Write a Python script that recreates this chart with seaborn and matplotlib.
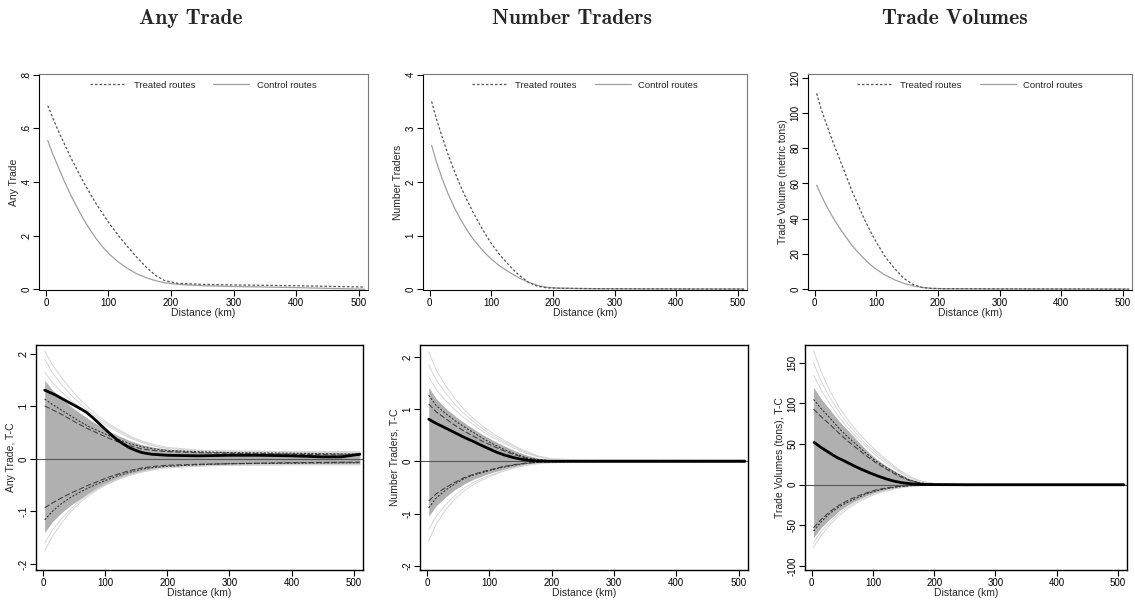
import numpy as np
import pandas as pd
import matplotlib
matplotlib.use("Agg")
import matplotlib.pyplot as plt
import seaborn as sns
from matplotlib.lines import Line2D

# ---------------- data ----------------
titles = ["Any Trade", "Number Traders", "Trade Volumes"]
top_ylabels = ["Any Trade", "Number Traders", "Trade Volume (metric tons)"]
bot_ylabels = ["Any Trade, T-C", "Number Traders, T-C", "Trade Volumes (tons), T-C"]
xlabel = "Distance (km)"
legend_labels = ["Treated routes", "Control routes"]
x_ticks = [0, 100, 200, 300, 400, 500]

top_yticks = [[0, 0.2, 0.4, 0.6, 0.8], [0, 1, 2, 3, 4], [0, 20, 40, 60, 80, 100, 120]]
top_yticklabels = [["0", ".2", ".4", ".6", ".8"], ["0", "1", "2", "3", "4"],
                   ["0", "20", "40", "60", "80", "100", "120"]]
bot_yticks = [[-0.2, -0.1, 0, 0.1, 0.2], [-2, -1, 0, 1, 2], [-100, -50, 0, 50, 100, 150]]
bot_yticklabels = [["-.2", "-.1", "0", ".1", ".2"], ["-2", "-1", "0", "1", "2"],
                   ["-100", "-50", "0", "50", "100", "150"]]

# distance grid for the top-row curves
xt = [3, 10, 20, 30, 40, 50, 60, 70, 80, 90, 100, 115, 130, 145, 160, 175, 190, 210, 250, 300, 400, 510]

at_treated = [.685, .645, .590, .540, .490, .445, .400, .360, .320, .285, .250, .203, .160, .120, .083, .052, .032, .022, .018, .016, .013, .008]
at_control = [.555, .510, .455, .400, .350, .305, .262, .224, .190, .160, .134, .103, .078, .058, .043, .032, .024, .018, .013, .010, .006, .000]
nt_treated = [3.50, 3.20, 2.84, 2.50, 2.20, 1.92, 1.67, 1.44, 1.23, 1.03, .85, .62, .43, .26, .13, .055, .025, .018, .012, .008, .005, .003]
nt_control = [2.68, 2.40, 2.06, 1.77, 1.52, 1.30, 1.11, .94, .80, .67, .56, .42, .31, .21, .13, .07, .035, .02, .012, .008, .005, .003]
tv_treated = [111, 102.5, 92.5, 83, 74, 65, 56, 48, 40, 33, 26.5, 18, 11.5, 6.0, 2.5, 0.9, 0.4, 0.25, 0.2, 0.15, 0.1, 0.0]
tv_control = [59, 53.5, 46.5, 40.3, 34.8, 29.8, 25, 21, 17.3, 14, 11.2, 7.8, 5.2, 3.2, 1.8, 0.9, 0.4, 0.25, 0.2, 0.1, 0.05, 0.0]

# distance grid for the bottom-row envelopes
xg = [3, 15, 30, 45, 60, 75, 90, 105, 120, 140, 160, 180, 200, 250, 300, 400, 510]

# actual treated - control difference (thick black)
at_diff_x = [3, 20, 40, 60, 70, 80, 90, 100, 110, 120, 130, 140, 150, 160, 175, 200, 250, 300, 350, 400, 450, 480, 510]
at_diff = [.131, .122, .109, .096, .089, .079, .068, .057, .046, .036, .028, .021, .016, .012, .009, .007, .006, .007, .007, .006, .004, .004, .009]
nt_diff_x = [3, 10, 18, 35, 50, 60, 75, 87, 100, 113, 125, 140, 155, 172, 200, 300, 400, 510]
nt_diff = [.81, .76, .71, .61, .52, .46, .38, .31, .24, .17, .12, .07, .035, .01, .003, .003, .003, .003]
tv_diff_x = [4, 15, 28, 40, 54, 67, 81, 95, 108, 121, 134, 147, 161, 175, 190, 250, 300, 400, 510]
tv_diff = [52, 46, 39.7, 34, 29, 24, 19, 14.5, 10.7, 7.3, 4.5, 2.5, 1.2, 0.5, 0.2, 0.0, 0.0, 0.0, 0.0]

# permutation percentiles (short dash / long dash)
at_up_short = [.114, .104, .093, .082, .071, .061, .053, .045, .038, .029, .023, .019, .016, .014, .012, .011, .009]
at_up_long = [.101, .094, .085, .075, .065, .056, .048, .040, .033, .025, .019, .016, .014, .012, .011, .009, .007]
at_lo_short = [-.116, -.100, -.085, -.073, -.063, -.054, -.046, -.039, -.032, -.025, -.019, -.016, -.014, -.011, -.009, -.008, -.007]
at_lo_long = [-.093, -.084, -.074, -.065, -.057, -.049, -.042, -.035, -.029, -.022, -.017, -.014, -.012, -.010, -.009, -.007, -.006]

nt_up_short = [1.27, 1.07, .92, .78, .66, .55, .44, .34, .25, .15, .07, .03, .015, .01, .01, .01, .01]
nt_up_long = [1.10, .95, .82, .69, .58, .48, .38, .30, .22, .13, .06, .025, .012, .008, .008, .008, .008]
nt_lo_short = [-.89, -.70, -.55, -.43, -.33, -.26, -.21, -.16, -.115, -.07, -.035, -.017, -.008, -.005, -.005, -.005, -.005]
nt_lo_long = [-.76, -.62, -.50, -.40, -.31, -.245, -.195, -.15, -.105, -.063, -.03, -.014, -.007, -.005, -.005, -.005, -.005]

tv_up_short = [105, 94, 82, 69, 58, 48, 38, 29, 22, 13, 5.5, 2.0, 0.5, 0.2, 0.2, 0.2, 0.2]
tv_up_long = [93, 84, 74, 63, 53, 44, 35, 27, 20, 11.5, 5.0, 1.5, 0.4, 0.2, 0.2, 0.2, 0.2]
tv_lo_short = [-57, -46, -35, -27, -21, -16, -11, -7.5, -5.0, -2.8, -1.2, -0.5, -0.2, -0.1, -0.1, -0.1, -0.1]
tv_lo_long = [-53, -43, -33, -25, -19, -14, -10, -6.5, -4.2, -2.3, -1.0, -0.4, -0.2, -0.1, -0.1, -0.1, -0.1]

# spread of placebo lines (dense core and outer lines)
at_core_up = [.150, .132, .115, .100, .087, .075, .064, .054, .045, .035, .027, .022, .019, .015, .014, .013, .013]
at_core_lo = [-.140, -.120, -.102, -.088, -.076, -.065, -.055, -.047, -.039, -.030, -.024, -.019, -.016, -.013, -.011, -.010, -.010]
at_outer_up1 = [.205, .180, .155, .133, .113, .096, .081, .068, .057, .044, .034, .027, .022, .017, .015, .014, .014]
at_outer_up2 = [.190, .165, .142, .122, .105, .090, .077, .065, .055, .042, .032, .025, .020, .016, .015, .014, .013]
at_outer_up3 = [.165, .146, .128, .112, .098, .085, .073, .062, .052, .040, .031, .024, .020, .016, .015, .014, .013]
at_outer_lo1 = [-.175, -.148, -.122, -.100, -.083, -.069, -.057, -.047, -.039, -.031, -.025, -.020, -.017, -.014, -.012, -.011, -.011]
at_outer_lo2 = [-.160, -.136, -.114, -.095, -.079, -.066, -.055, -.046, -.038, -.030, -.024, -.019, -.016, -.013, -.012, -.011, -.011]

nt_core_up = [1.42, 1.20, 1.02, .87, .74, .62, .51, .41, .32, .21, .12, .06, .03, .02, .02, .02, .02]
nt_core_lo = [-1.05, -.85, -.68, -.54, -.43, -.34, -.27, -.21, -.16, -.10, -.055, -.03, -.02, -.015, -.015, -.015, -.015]
nt_outer_up1 = [2.10, 1.75, 1.45, 1.20, .99, .82, .67, .54, .43, .30, .19, .10, .05, .03, .03, .03, .03]
nt_outer_up2 = [1.85, 1.56, 1.31, 1.09, .91, .76, .62, .50, .40, .28, .17, .09, .045, .03, .03, .03, .03]
nt_outer_up3 = [1.62, 1.38, 1.17, .99, .83, .70, .57, .46, .37, .25, .15, .08, .04, .025, .025, .025, .025]
nt_outer_lo1 = [-1.52, -1.20, -.93, -.72, -.56, -.44, -.35, -.27, -.20, -.13, -.075, -.04, -.025, -.02, -.02, -.02, -.02]
nt_outer_lo2 = [-1.30, -1.05, -.83, -.65, -.51, -.40, -.32, -.25, -.19, -.12, -.07, -.038, -.022, -.018, -.018, -.018, -.018]

tv_core_up = [120, 106, 92, 78, 66, 54, 42, 32, 24, 15, 7.5, 3.0, 1.0, 0.5, 0.4, 0.4, 0.4]
tv_core_lo = [-65, -53, -42, -32, -24.5, -18.5, -13.5, -9.5, -6.5, -3.8, -1.8, -0.8, -0.4, -0.3, -0.3, -0.3, -0.3]
tv_outer_up1 = [165, 140, 115, 95, 79, 65, 53, 42, 32, 20, 10, 4.0, 1.5, 0.6, 0.5, 0.5, 0.5]
tv_outer_up2 = [150, 128, 107, 89, 74, 61, 49, 39, 30, 18.5, 9.5, 3.8, 1.4, 0.6, 0.5, 0.5, 0.5]
tv_outer_up3 = [135, 117, 99, 83, 69, 57, 46, 36, 27.5, 17, 8.5, 3.5, 1.2, 0.5, 0.4, 0.4, 0.4]
tv_outer_lo1 = [-77, -63, -49, -38, -29, -22, -16, -11.5, -8.0, -4.5, -2.2, -1.0, -0.5, -0.3, -0.3, -0.3, -0.3]
tv_outer_lo2 = [-71, -58, -46, -35, -27, -20.5, -15, -10.5, -7.2, -4.2, -2.0, -0.9, -0.5, -0.3, -0.3, -0.3, -0.3]

# ---------------- styling ----------------
sns.set_theme(style="white")
plt.rcParams['font.family'] = ['Liberation Sans', 'DejaVu Sans']
plt.rcParams['axes.edgecolor'] = 'black'

TICK_FS = 7.0
LAB_FS = 7.5
W, H = 1135, 601

fig = plt.figure(figsize=(W / 100, H / 100), dpi=100)
fig.patch.set_facecolor("white")

def pos(l, r, t, b):
    return [l / W, 1 - b / H, (r - l) / W, (b - t) / H]

top_pos = [pos(39, 368, 74, 290), pos(423, 747, 74, 290), pos(808, 1132, 74, 290)]
bot_pos = [pos(36, 363, 345, 570), pos(420, 748, 345, 570), pos(805, 1127, 345, 570)]
top_ylims = [(-0.003, 0.803), (-0.015, 4.01), (-0.5, 122)]
bot_ylims = [(-0.2114, 0.217), (-2.08, 2.23), (-105, 172)]
xlim = (-11, 515)
title_x = [191, 572, 955]

top_data = [(at_treated, at_control), (nt_treated, nt_control), (tv_treated, tv_control)]
bot_data = [
    dict(dx=at_diff_x, d=at_diff, us=at_up_short, ul=at_up_long, ls=at_lo_short, ll=at_lo_long,
         cu=at_core_up, cl=at_core_lo, ou=[at_outer_up1, at_outer_up2, at_outer_up3],
         ol=[at_outer_lo1, at_outer_lo2]),
    dict(dx=nt_diff_x, d=nt_diff, us=nt_up_short, ul=nt_up_long, ls=nt_lo_short, ll=nt_lo_long,
         cu=nt_core_up, cl=nt_core_lo, ou=[nt_outer_up1, nt_outer_up2, nt_outer_up3],
         ol=[nt_outer_lo1, nt_outer_lo2]),
    dict(dx=tv_diff_x, d=tv_diff, us=tv_up_short, ul=tv_up_long, ls=tv_lo_short, ll=tv_lo_long,
         cu=tv_core_up, cl=tv_core_lo, ou=[tv_outer_up1, tv_outer_up2, tv_outer_up3],
         ol=[tv_outer_lo1, tv_outer_lo2]),
]

def line(ax, x, y, **kw):
    df = pd.DataFrame({"x": x, "y": y})
    sns.lineplot(data=df, x="x", y="y", ax=ax, estimator=None, sort=False,
                 legend=False, **kw)

def style_axes(ax, yt, ytl, ylab, frame_col_top, lw_frame):
    ax.set_xlim(*xlim)
    ax.set_xticks(x_ticks)
    ax.set_xticklabels([str(v) for v in x_ticks], fontsize=TICK_FS)
    ax.set_yticks(yt)
    ax.set_yticklabels(ytl, rotation=90, va="center", fontsize=TICK_FS)
    ax.tick_params(axis="both", which="major", direction="out", length=4, width=0.8,
                   pad=1.5, colors="black", left=True, bottom=True)
    ax.set_xlabel(xlabel, fontsize=LAB_FS, labelpad=0.0)
    ax.set_ylabel(ylab, fontsize=LAB_FS, labelpad=2)
    for s in ["left", "bottom"]:
        ax.spines[s].set_color("black")
        ax.spines[s].set_linewidth(lw_frame)
    for s in ["top", "right"]:
        ax.spines[s].set_color(frame_col_top)
        ax.spines[s].set_linewidth(lw_frame)
    ax.grid(False)
    ax.set_facecolor("white")

for i in range(3):
    # ---- top panel ----
    ax = fig.add_axes(top_pos[i])
    tr, co = top_data[i]
    line(ax, xt, co, color="#a0a0a0", linewidth=0.9)
    line(ax, xt, tr, color="#555555", linewidth=0.9, linestyle=(0, (2.0, 1.6)))
    ax.set_ylim(*top_ylims[i])
    style_axes(ax, top_yticks[i], top_yticklabels[i], top_ylabels[i], "#7a7a7a", 0.8)
    handles = [Line2D([], [], color="#555555", linewidth=0.9, linestyle=(0, (2.0, 1.6))),
               Line2D([], [], color="#a0a0a0", linewidth=0.9)]
    ax.legend(handles, legend_labels, loc="upper center", ncol=2, frameon=False,
              fontsize=6.8, handlelength=3.8, handletextpad=0.8, columnspacing=1.9,
              bbox_to_anchor=(0.5, 1.0), borderaxespad=0.3)

    # ---- bottom panel ----
    ax = fig.add_axes(bot_pos[i])
    bd = bot_data[i]
    for o in bd["ou"]:
        line(ax, xg, o, color="#d6d6d6", linewidth=0.7)
    for o in bd["ol"]:
        line(ax, xg, o, color="#d6d6d6", linewidth=0.7)
    ax.fill_between(xg, bd["cl"], bd["cu"], color="#b0b0b0", linewidth=0)
    ax.axhline(0, color="#555555", linewidth=0.8)
    line(ax, xg, bd["ul"], color="#444444", linewidth=0.8, linestyle=(0, (5, 2)))
    line(ax, xg, bd["ll"], color="#444444", linewidth=0.8, linestyle=(0, (5, 2)))
    line(ax, xg, bd["us"], color="#333333", linewidth=0.8, linestyle=(0, (1.8, 1.5)))
    line(ax, xg, bd["ls"], color="#333333", linewidth=0.8, linestyle=(0, (1.8, 1.5)))
    line(ax, bd["dx"], bd["d"], color="black", linewidth=2.0)
    ax.set_ylim(*bot_ylims[i])
    style_axes(ax, bot_yticks[i], bot_yticklabels[i], bot_ylabels[i], "black", 1.0)

    fig.text(title_x[i] / W, 1 - 19 / H, titles[i], fontfamily="cmb10", fontsize=15.5,
             ha="center", va="center")

fig.savefig("out.png", dpi=100, facecolor="white")
